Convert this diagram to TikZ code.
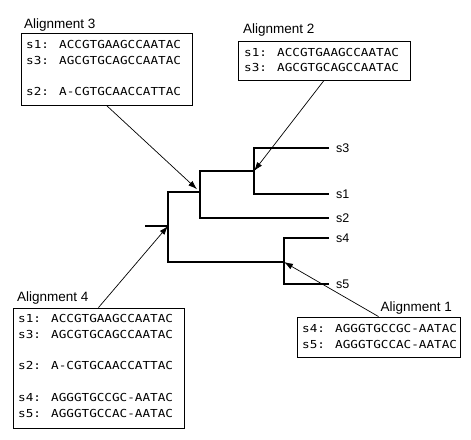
\documentclass[tikz,border=0pt]{standalone}
\usepackage{fontspec}
\setmainfont{Liberation Sans}
\newfontfamily\seqfont[FakeStretch=1.15]{DejaVu Sans Mono}
\usetikzlibrary{arrows.meta}
\begin{document}
\begin{tikzpicture}[x=1pt,y=-1pt,
  tree/.style={line width=2pt},
  alnbox/.style={draw,line width=0.9pt,inner sep=0pt},
  seq/.style={anchor=base west,inner sep=0pt,font=\seqfont\fontsize{11}{13}\selectfont},
  alnlabel/.style={inner sep=0pt,font=\fontsize{13.5}{16}\selectfont},
  leaf/.style={anchor=west,inner xsep=7pt,inner ysep=0pt,font=\fontsize{12.5}{15}\selectfont},
  pointer/.style={line width=0.7pt,-{Latex[length=9pt,width=6pt]}}]
\useasboundingbox (0,0) rectangle (471,439);
% leaves
\node[leaf] (s3) at (329,148) {s3};
\node[leaf] (s1) at (329,194) {s1};
\node[leaf] (s2) at (329,218) {s2};
\node[leaf] (s4) at (329,238) {s4};
\node[leaf] (s5) at (329,284) {s5};
% internal nodes
\coordinate (c13) at (254,171);
\coordinate (c123) at (200,192);
\coordinate (c45) at (284,262);
\coordinate (croot) at (168,226);
\coordinate (cstub) at (145,226);
% tree
\draw[tree] (s3.west) -| (c13) |- (s1.west);
\draw[tree] (c13) -| (c123) |- (s2.west);
\draw[tree] (c123) -| (croot) |- (c45);
\draw[tree] (s4.west) -| (c45) |- (s5.west);
\draw[tree] (cstub) -- (croot);
% Alignment 3
\node[alnlabel,anchor=base west] (l3) at (24,28) {Alignment 3};
\node[alnbox,minimum width=171pt,minimum height=72pt] (b3) at (106.5,69) {};
\node[seq] (b3a) at (26,48.5) {s1: ACCGTGAAGCCAATAC};
\node[seq] (b3b) at (26,64.5) {s3: AGCGTGCAGCCAATAC};
\node[seq] (b3c) at (26,95.5) {s2: A-CGTGCAACCATTAC};
% Alignment 2
\node[alnlabel,anchor=base west] (l2) at (243,33.5) {Alignment 2};
\node[alnbox,minimum width=172pt,minimum height=39pt] (b2) at (324,60.5) {};
\node[seq] (b2a) at (244,56) {s1: ACCGTGAAGCCAATAC};
\node[seq] (b2b) at (244,71.5) {s3: AGCGTGCAGCCAATAC};
% Alignment 4
\node[alnlabel,anchor=base west] (l4) at (17,301.5) {Alignment 4};
\node[alnbox,minimum width=171pt,minimum height=120pt] (b4) at (98.5,368) {};
\node[seq] (b4a) at (18,322.5) {s1: ACCGTGAAGCCAATAC};
\node[seq] (b4b) at (18,338.5) {s3: AGCGTGCAGCCAATAC};
\node[seq] (b4c) at (18,369.5) {s2: A-CGTGCAACCATTAC};
\node[seq] (b4d) at (18,401.5) {s4: AGGGTGCCGC-AATAC};
\node[seq] (b4e) at (18,417.5) {s5: AGGGTGCCAC-AATAC};
% Alignment 1
\node[alnlabel,anchor=base east] (l1) at (452,311) {Alignment 1};
\node[alnbox,minimum width=163pt,minimum height=40pt] (b1) at (378.5,337) {};
\node[seq] (b1a) at (302,332.5) {s4: AGGGTGCCGC-AATAC};
\node[seq] (b1b) at (302,348.5) {s5: AGGGTGCCAC-AATAC};
% pointers
\draw[pointer] (b1.north) -- (c45);
\draw[pointer] (b2.south) -- (c13);
\draw[pointer,shorten >=4pt] (b3.south) -- (c123);
\draw[pointer] (b4.north) -- (croot);
\end{tikzpicture}
\end{document}
